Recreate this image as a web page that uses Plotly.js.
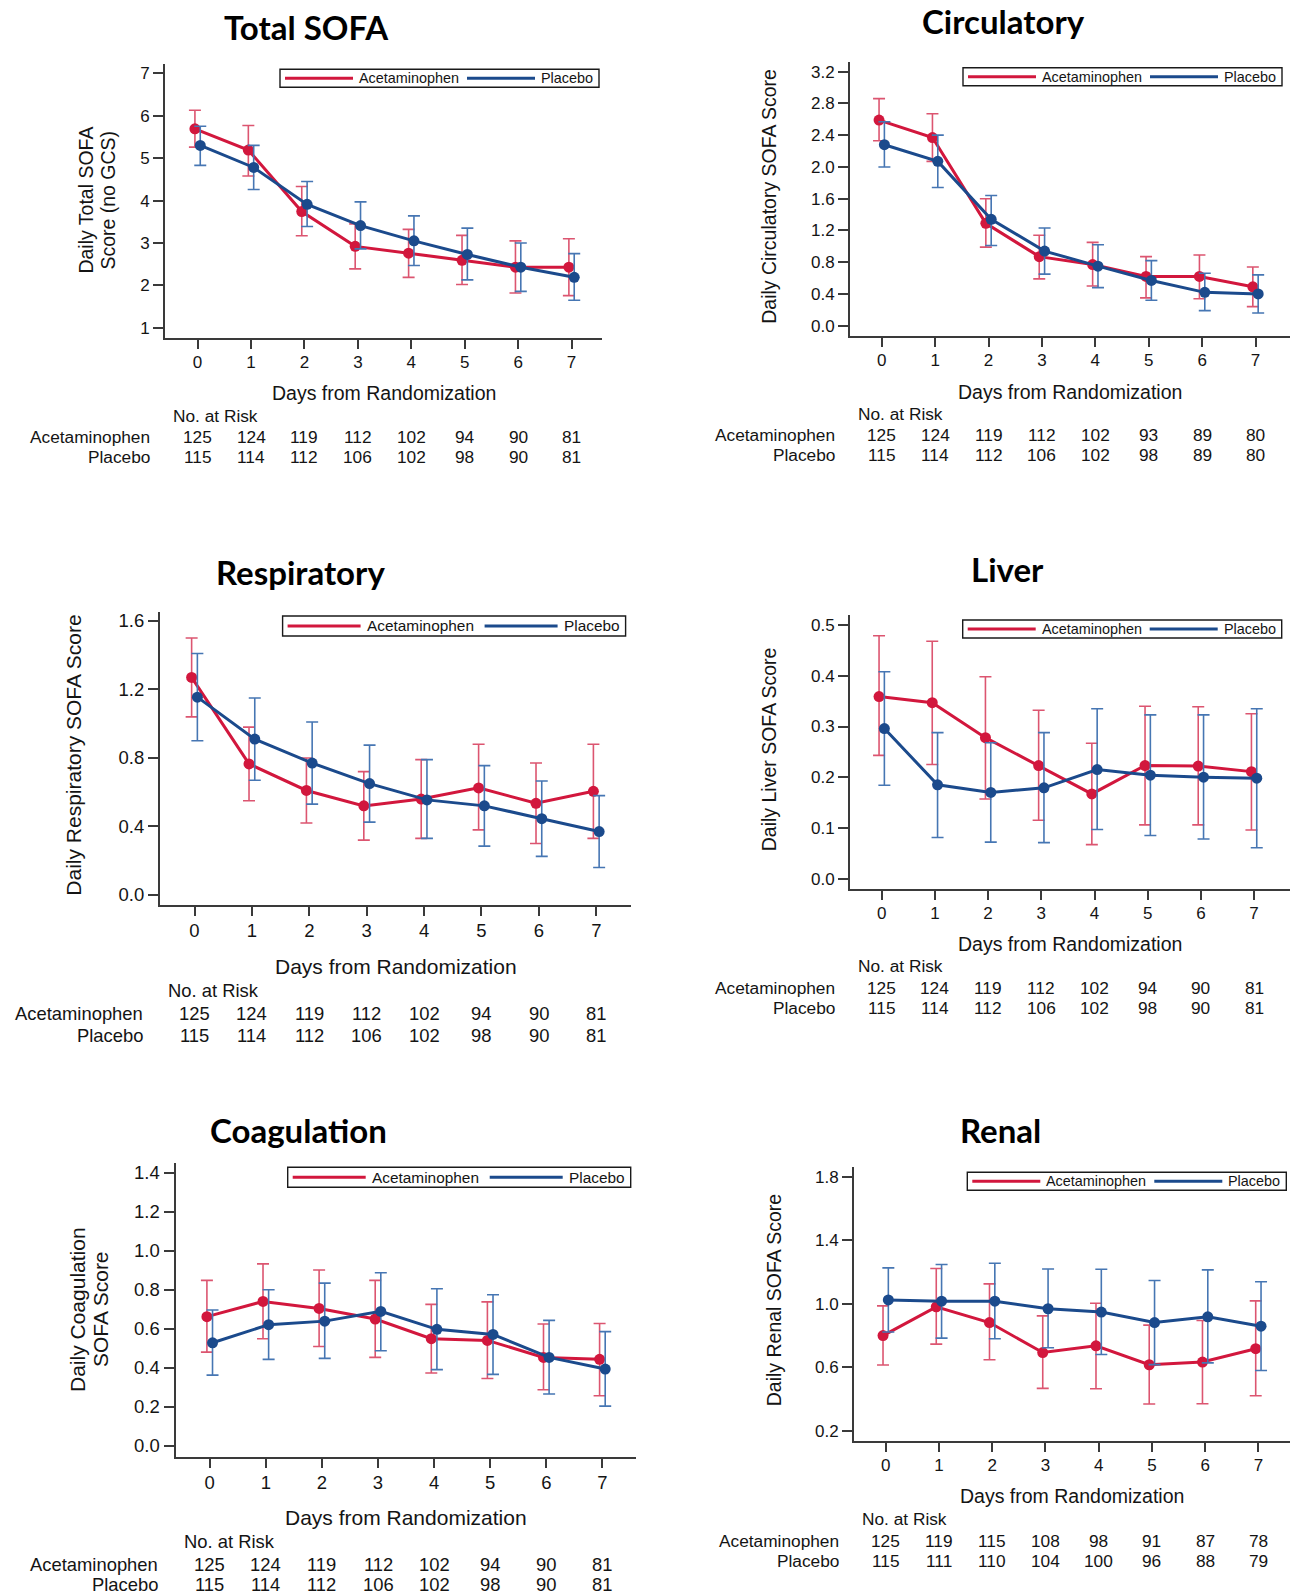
<!DOCTYPE html>
<html><head><meta charset="utf-8">
<script src="https://cdn.plot.ly/plotly-3.0.1.min.js"></script>
<style>html,body{margin:0;padding:0;background:#fff}#chart{width:1293px;height:1596px}</style>
</head><body><div id="chart"></div>
<script>
// ---------------- DATA ----------------
const days = [0, 1, 2, 3, 4, 5, 6, 7];
const seriesNames = ['Acetaminophen', 'Placebo'];
const panelTitles = ['Total SOFA', 'Circulatory', 'Respiratory', 'Liver', 'Coagulation', 'Renal'];

// Total SOFA
const totalAcetMean  = [5.69, 5.19, 3.74, 2.92, 2.76, 2.59, 2.43, 2.43];
const totalAcetLower = [5.26, 4.58, 3.17, 2.39, 2.19, 2.02, 1.82, 1.76];
const totalAcetUpper = [6.13, 5.77, 4.33, 3.45, 3.32, 3.18, 3.05, 3.10];
const totalPlacMean  = [5.30, 4.78, 3.91, 3.41, 3.05, 2.73, 2.43, 2.19];
const totalPlacLower = [4.83, 4.26, 3.39, 2.86, 2.47, 2.13, 1.86, 1.65];
const totalPlacUpper = [5.75, 5.30, 4.45, 3.97, 3.64, 3.35, 3.00, 2.75];
const totalAcetRisk  = [125, 124, 119, 112, 102, 94, 90, 81];
const totalPlacRisk  = [115, 114, 112, 106, 102, 98, 90, 81];

// Circulatory
const circAcetMean  = [2.59, 2.37, 1.29, 0.87, 0.77, 0.62, 0.62, 0.49];
const circAcetLower = [2.33, 2.07, 0.99, 0.59, 0.50, 0.35, 0.34, 0.24];
const circAcetUpper = [2.86, 2.67, 1.60, 1.14, 1.05, 0.87, 0.89, 0.74];
const circPlacMean  = [2.28, 2.07, 1.34, 0.94, 0.75, 0.57, 0.42, 0.40];
const circPlacLower = [2.00, 1.74, 1.01, 0.65, 0.48, 0.32, 0.19, 0.16];
const circPlacUpper = [2.57, 2.40, 1.64, 1.23, 1.02, 0.82, 0.66, 0.64];
const circAcetRisk  = [125, 124, 119, 112, 102, 93, 89, 80];
const circPlacRisk  = [115, 114, 112, 106, 102, 98, 89, 80];

// Respiratory
const respAcetMean  = [1.27, 0.765, 0.61, 0.52, 0.56, 0.625, 0.535, 0.605];
const respAcetLower = [1.04, 0.55, 0.42, 0.32, 0.33, 0.38, 0.30, 0.33];
const respAcetUpper = [1.50, 0.98, 0.80, 0.72, 0.79, 0.88, 0.77, 0.88];
const respPlacMean  = [1.155, 0.91, 0.77, 0.65, 0.555, 0.52, 0.445, 0.37];
const respPlacLower = [0.90, 0.67, 0.53, 0.425, 0.33, 0.285, 0.225, 0.16];
const respPlacUpper = [1.41, 1.15, 1.01, 0.875, 0.79, 0.755, 0.665, 0.58];
const respAcetRisk  = [125, 124, 119, 112, 102, 94, 90, 81];
const respPlacRisk  = [115, 114, 112, 106, 102, 98, 90, 81];

// Liver
const liverAcetMean  = [0.359, 0.347, 0.278, 0.223, 0.167, 0.223, 0.222, 0.211];
const liverAcetLower = [0.243, 0.225, 0.157, 0.115, 0.067, 0.106, 0.106, 0.096];
const liverAcetUpper = [0.479, 0.468, 0.398, 0.332, 0.267, 0.340, 0.339, 0.325];
const liverPlacMean  = [0.296, 0.185, 0.170, 0.179, 0.215, 0.204, 0.200, 0.198];
const liverPlacLower = [0.184, 0.081, 0.072, 0.071, 0.097, 0.085, 0.078, 0.061];
const liverPlacUpper = [0.408, 0.288, 0.268, 0.288, 0.335, 0.323, 0.323, 0.335];
const liverAcetRisk  = [125, 124, 119, 112, 102, 94, 90, 81];
const liverPlacRisk  = [115, 114, 112, 106, 102, 98, 90, 81];

// Coagulation
const coagAcetMean  = [0.662, 0.740, 0.704, 0.650, 0.549, 0.540, 0.453, 0.443];
const coagAcetLower = [0.480, 0.549, 0.509, 0.453, 0.373, 0.345, 0.287, 0.256];
const coagAcetUpper = [0.848, 0.933, 0.901, 0.848, 0.725, 0.738, 0.624, 0.627];
const coagPlacMean  = [0.528, 0.621, 0.639, 0.689, 0.597, 0.571, 0.453, 0.393];
const coagPlacLower = [0.362, 0.443, 0.448, 0.487, 0.390, 0.366, 0.265, 0.203];
const coagPlacUpper = [0.696, 0.800, 0.834, 0.887, 0.805, 0.774, 0.643, 0.585];
const coagAcetRisk  = [125, 124, 119, 112, 102, 94, 90, 81];
const coagPlacRisk  = [115, 114, 112, 106, 102, 98, 90, 81];

// Renal
const renalAcetMean  = [0.800, 0.981, 0.882, 0.693, 0.735, 0.616, 0.633, 0.717];
const renalAcetLower = [0.614, 0.746, 0.647, 0.467, 0.465, 0.368, 0.370, 0.420];
const renalAcetUpper = [0.987, 1.223, 1.126, 0.924, 1.004, 0.866, 0.895, 1.019];
const renalPlacMean  = [1.025, 1.017, 1.017, 0.969, 0.948, 0.882, 0.918, 0.859];
const renalPlacLower = [0.822, 0.784, 0.780, 0.723, 0.681, 0.617, 0.628, 0.580];
const renalPlacUpper = [1.227, 1.248, 1.256, 1.220, 1.218, 1.147, 1.214, 1.139];
const renalAcetRisk  = [125, 119, 115, 108, 98, 91, 87, 78];
const renalPlacRisk  = [115, 111, 110, 104, 100, 96, 88, 79];

// ---------------- STYLE / LAYOUT ----------------
const W = 1293, H = 1596;
const px = v => v / W;
const py = v => 1 - v / H;
const RED = '#D2173D', BLUE = '#1B4A8C', RED_ERR = '#DC5570', BLUE_ERR = '#4676B3';
const AXIS = '#3a3a3a', TXT = '#141414';
const SANS = '"Liberation Sans", Arial, Helvetica, sans-serif';
const TITLEFONT = 'Lato, Carlito, Calibri, sans-serif';
const DODGE = 0.05;

const panels = [
  { title: panelTitles[0], yTitle: ['Daily Total SOFA', 'Score (no GCS)'],
    acet: [totalAcetMean, totalAcetLower, totalAcetUpper], plac: [totalPlacMean, totalPlacLower, totalPlacUpper],
    risk: [totalAcetRisk, totalPlacRisk],
    l: 165, r: 602, t: 64, b: 338, xr: [-0.61, 7.57], yr: [0.76, 7.219], tick0: 1, dtick: 1, fmt: 'd', big: false,
    titlePos: [306.5, 27], yTitleX: [86, 108], yTitleY: 200.6, xTitleY: 393, riskY: [416, 437, 457], leg: [280, 69.3] },
  { title: panelTitles[1], yTitle: ['Daily Circulatory SOFA Score'],
    acet: [circAcetMean, circAcetLower, circAcetUpper], plac: [circPlacMean, circPlacLower, circPlacUpper],
    risk: [circAcetRisk, circPlacRisk],
    l: 850, r: 1290, t: 62.3, b: 335.7, xr: [-0.594, 7.646], yr: [-0.126, 3.318], tick0: 0, dtick: 0.4, fmt: '.1f', big: false,
    titlePos: [1003, 21], yTitleX: [769.5], yTitleY: 196.3, xTitleY: 391.5, riskY: [414.3, 435.3, 455.2], leg: [963, 67.7] },
  { title: panelTitles[2], yTitle: ['Daily Respiratory SOFA Score'],
    acet: [respAcetMean, respAcetLower, respAcetUpper], plac: [respPlacMean, respPlacLower, respPlacUpper],
    risk: [respAcetRisk, respPlacRisk],
    l: 160, r: 631, t: 611.7, b: 904.5, xr: [-0.601, 7.605], yr: [-0.056, 1.654], tick0: 0, dtick: 0.4, fmt: '.1f', big: true,
    titlePos: [300.3, 571.7], yTitleX: [74], yTitleY: 755.7, xTitleY: 966, riskY: [990, 1013.3, 1035.6], leg: [282.6, 616] },
  { title: panelTitles[3], yTitle: ['Daily Liver SOFA Score'],
    acet: [liverAcetMean, liverAcetLower, liverAcetUpper], plac: [liverPlacMean, liverPlacLower, liverPlacUpper],
    risk: [liverAcetRisk, liverPlacRisk],
    l: 850, r: 1290, t: 615, b: 888.5, xr: [-0.596, 7.675], yr: [-0.0195, 0.5199], tick0: 0, dtick: 0.1, fmt: '.1f', big: false,
    titlePos: [1007, 568.6], yTitleX: [768.8], yTitleY: 749.5, xTitleY: 944, riskY: [966, 987.6, 1008], leg: [962.7, 620] },
  { title: panelTitles[4], yTitle: ['Daily Coagulation', 'SOFA Score'],
    acet: [coagAcetMean, coagAcetLower, coagAcetUpper], plac: [coagPlacMean, coagPlacLower, coagPlacUpper],
    risk: [coagAcetRisk, coagPlacRisk],
    l: 175.5, r: 636, t: 1163.3, b: 1457, xr: [-0.61, 7.599], yr: [-0.058, 1.4487], tick0: 0, dtick: 0.2, fmt: '.1f', big: true,
    titlePos: [298.8, 1129.6], yTitleX: [77.5, 100.5], yTitleY: 1309.5, xTitleY: 1517, riskY: [1541.5, 1564, 1584.5], leg: [287.7, 1167.3] },
  { title: panelTitles[5], yTitle: ['Daily Renal SOFA Score'],
    acet: [renalAcetMean, renalAcetLower, renalAcetUpper], plac: [renalPlacMean, renalPlacLower, renalPlacUpper],
    risk: [renalAcetRisk, renalPlacRisk],
    l: 854, r: 1290, t: 1167.3, b: 1440.7, xr: [-0.595, 7.594], yr: [0.137, 1.861], tick0: 0.2, dtick: 0.4, fmt: '.1f', big: false,
    titlePos: [1000.8, 1129.6], yTitleX: [773.5], yTitleY: 1300.8, xTitleY: 1496, riskY: [1519, 1540.7, 1561], leg: [967.3, 1172.3] }
];

const traces = [];
const annotations = [];
const shapes = [];
const layout = {
  width: W, height: H, margin: { l: 0, r: 0, t: 0, b: 0 },
  paper_bgcolor: '#ffffff', plot_bgcolor: '#ffffff', showlegend: false,
  font: { family: SANS, color: TXT }, annotations, shapes
};

function addSeries(n, sIdx, stats, color, errColor, offset) {
  const xs = days.map(d => d + offset);
  const [mean, lower, upper] = stats;
  const xa = 'x' + (n === 1 ? '' : n), ya = 'y' + (n === 1 ? '' : n);
  traces.push({
    type: 'scatter', mode: 'lines', name: seriesNames[sIdx], x: xs, y: mean,
    xaxis: xa, yaxis: ya, line: { color: color, width: 3 }, hoverinfo: 'skip'
  });
  traces.push({
    type: 'scatter', mode: 'markers', name: seriesNames[sIdx], x: xs, y: mean,
    xaxis: xa, yaxis: ya, marker: { color: color, size: 11 },
    error_y: {
      type: 'data', symmetric: false,
      array: mean.map((m, i) => upper[i] - m),
      arrayminus: mean.map((m, i) => m - lower[i]),
      color: errColor, thickness: 1.6, width: 6
    }
  });
}

panels.forEach((p, idx) => {
  const n = idx + 1;
  const suf = n === 1 ? '' : String(n);
  const tickSize = p.big ? 18.5 : 17;
  const titleSize = p.big ? 21 : 19.5;
  const riskSize = p.big ? 18.4 : 17.3;
  const legSize = p.big ? 15.4 : 14.4;

  addSeries(n, 0, p.acet, RED, RED_ERR, -DODGE);
  addSeries(n, 1, p.plac, BLUE, BLUE_ERR, DODGE);

  layout['xaxis' + suf] = {
    domain: [px(p.l), px(p.r)], anchor: 'y' + suf, range: p.xr,
    tickmode: 'array', tickvals: days, ticktext: days.map(String),
    showline: true, linecolor: AXIS, linewidth: 2, ticks: 'outside', ticklen: 9, tickwidth: 1.6, tickcolor: AXIS,
    showgrid: false, zeroline: false, tickfont: { family: SANS, size: tickSize, color: TXT }, ticklabelstandoff: -1
  };
  layout['yaxis' + suf] = {
    domain: [py(p.b), py(p.t)], anchor: 'x' + suf, range: p.yr,
    tickmode: 'linear', tick0: p.tick0, dtick: p.dtick, tickformat: p.fmt,
    showline: true, linecolor: AXIS, linewidth: 2, ticks: 'outside', ticklen: 10, tickwidth: 1.6, tickcolor: AXIS,
    showgrid: false, zeroline: false, tickfont: { family: SANS, size: tickSize, color: TXT }
  };

  // panel title
  annotations.push({ xref: 'paper', yref: 'paper', x: px(p.titlePos[0]), y: py(p.titlePos[1]),
    xanchor: 'center', yanchor: 'middle', showarrow: false, borderpad: 0, text: '<b>' + p.title + '</b>',
    font: { family: TITLEFONT, size: 33, color: '#000' } });

  // y-axis title (one or two lines)
  p.yTitle.forEach((t, i) => {
    annotations.push({ xref: 'paper', yref: 'paper', x: px(p.yTitleX[i]), y: py(p.yTitleY),
      xanchor: 'center', yanchor: 'middle', textangle: -90, showarrow: false, text: t,
      font: { family: SANS, size: titleSize, color: TXT } });
  });

  // x-axis title
  annotations.push({ xref: 'x' + suf + ' domain', yref: 'paper', x: 0.5, y: py(p.xTitleY),
    xanchor: 'center', yanchor: 'middle', showarrow: false, text: 'Days from Randomization',
    font: { family: SANS, size: titleSize, color: TXT } });

  // number at risk table
  annotations.push({ xref: 'paper', yref: 'paper', x: px(p.l + 6), y: py(p.riskY[0]),
    xanchor: 'left', yanchor: 'middle', showarrow: false, text: 'No. at Risk',
    font: { family: SANS, size: riskSize, color: TXT } });
  const labelRight = p.l - (p.big ? 15.5 : 13.5);
  seriesNames.forEach((nm, s) => {
    annotations.push({ xref: 'paper', yref: 'paper', x: px(labelRight), y: py(p.riskY[s + 1]),
      xanchor: 'right', yanchor: 'middle', showarrow: false, text: nm,
      font: { family: SANS, size: riskSize, color: TXT } });
    days.forEach((d, i) => {
      annotations.push({ xref: 'x' + suf, yref: 'paper', x: d, y: py(p.riskY[s + 1]),
        xanchor: 'center', yanchor: 'middle', showarrow: false, text: String(p.risk[s][i]),
        font: { family: SANS, size: riskSize, color: TXT } });
    });
  });

  // legend (boxed, horizontal)
  const L = p.leg[0], T = p.leg[1];
  const bw = p.big ? 343 : 319, bh = p.big ? 20 : 18;
  const seg = p.big ? 73 : 68;
  const b0 = p.big ? 202 : 187;
  const cy = T + bh / 2;
  shapes.push({ type: 'rect', xref: 'paper', yref: 'paper', x0: px(L), x1: px(L + bw), y0: py(T), y1: py(T + bh),
    line: { color: '#1a1a1a', width: 1.4 }, fillcolor: '#ffffff', layer: 'above' });
  [[L + 5, RED, seriesNames[0]], [L + b0, BLUE, seriesNames[1]]].forEach(([x0, c, nm]) => {
    shapes.push({ type: 'line', xref: 'paper', yref: 'paper', x0: px(x0), x1: px(x0 + seg), y0: py(cy), y1: py(cy),
      line: { color: c, width: 3 }, layer: 'above' });
    annotations.push({ xref: 'paper', yref: 'paper', x: px(x0 + seg + 4), y: py(cy), xanchor: 'left', yanchor: 'middle',
      showarrow: false, text: nm, font: { family: SANS, size: legSize, color: TXT } });
  });
});

Plotly.newPlot('chart', traces, layout, { displayModeBar: false, responsive: false });
</script>
</body></html>
